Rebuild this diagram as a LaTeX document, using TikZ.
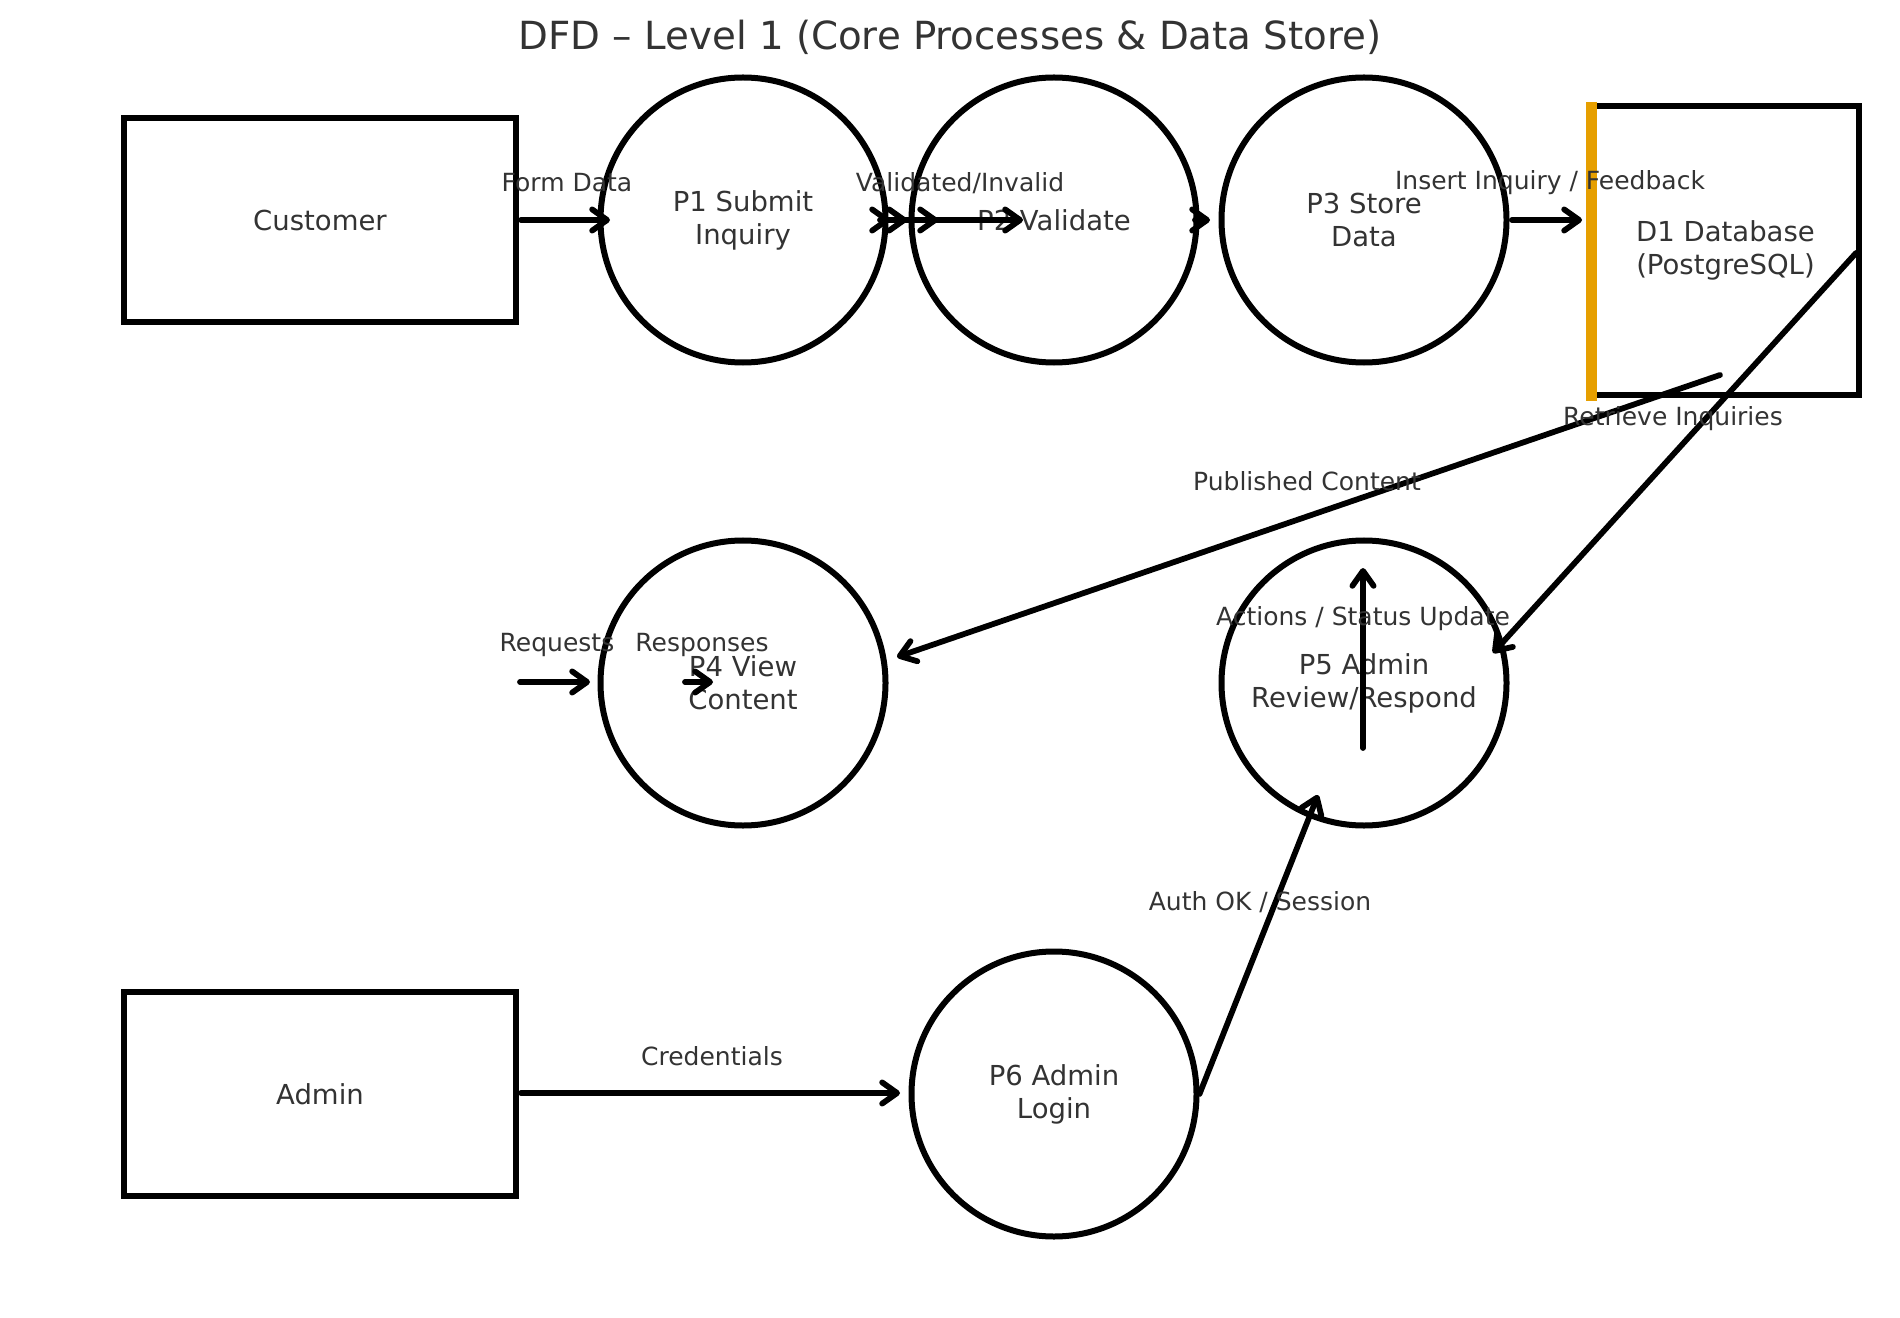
\documentclass[tikz,border=0pt]{standalone}
\usepackage{fontspec}
\setmainfont{DejaVu Sans}
\usetikzlibrary{arrows.meta}
\definecolor{txtgray}{HTML}{333333}
\definecolor{storebar}{HTML}{E69F00}

\begin{document}
\begin{tikzpicture}[
    x=0.4pt, y=-0.4pt,
    entity/.style={draw, line width=2.4pt, minimum width=156.4pt, minimum height=81.6pt, text=txtgray, font=\fontsize{11}{13.2}\selectfont, align=center},
    process/.style={draw, circle, line width=2.4pt, minimum size=114pt, inner sep=0pt, text=txtgray, font=\fontsize{11}{13.2}\selectfont, align=center},
    store/.style={draw, line width=2.4pt, minimum width=106.8pt, minimum height=115.2pt, text=txtgray, font=\fontsize{11}{13.2}\selectfont, align=center},
    lbl/.style={text=txtgray, font=\fontsize{10}{12}\selectfont, inner sep=0pt},
    flow/.style={line width=2.3pt, line cap=round, -{Straight Barb[length=6pt, width=8.5pt, round]}}
]
\useasboundingbox (0,0) rectangle (1900,1318);

% Rows of the diagram
\def\rowA{220}
\def\rowB{683}
\def\rowC{1094}

% Title
\node[text=txtgray, font=\fontsize{15.5}{18}\selectfont] (title) at (950,37) {DFD – Level 1 (Core Processes \& Data Store)};

% External entities
\node[entity] (cust) at (320,\rowA) {Customer};
\node[entity] (admin) at (320,\rowC) {Admin};

% Processes
\node[process] (p1) at (743,\rowA) {P1 Submit\\Inquiry};
\node[process] (p2) at (1054,\rowA) {P2 Validate};
\node[process] (p3) at (1364,\rowA) {P3 Store\\Data};
\node[process] (p4) at (743,\rowB) {P4 View\\Content};
\node[process] (p5) at (1364,\rowB) {P5 Admin\\Review/Respond};
\node[process] (p6) at (1054,\rowC) {P6 Admin\\Login};

% Data store with its open side
\node[store] (d1) at (1725.5,250.5) {D1 Database\\(PostgreSQL)};
\draw[storebar, line width=4.3pt] (1591.5,102) -- (1591.5,401);

% Arrow ends
\coordinate (formA) at (521,\rowA);
\coordinate (formB) at (610,\rowA);
\coordinate (valA) at (885,\rowA);
\coordinate (valB) at (1023,\rowA);
\coordinate (insA) at (1512,\rowA);
\coordinate (insB) at (1582,\rowA);
\coordinate (retA) at (1856,253);
\coordinate (retB) at (1493,653);
\coordinate (pubA) at (1720,375);
\coordinate (pubB) at (897,657);
\coordinate (reqA) at (520,682);
\coordinate (reqB) at (590,682);
\coordinate (resA) at (685,682);
\coordinate (resB) at (713,682);
\coordinate (actA) at (1363,748);
\coordinate (actB) at (1363,568);
\coordinate (authB) at (1318,795);
\coordinate (credA) at (521,1093);
\coordinate (credB) at (900,1093);

% Top row flows
\draw[flow] (formA) -- (formB);
\draw[flow] (valA) -- (valB);
\draw[flow] (880,\rowA) -- (890,\rowA);
\draw[flow] (897,\rowA) -- (907,\rowA);
\draw[flow] (928,\rowA) -- (938,\rowA);
\draw[flow] (1195,\rowA) -- (1210,\rowA);
\draw[flow] (insA) -- (insB);

% Store to processes
\draw[flow] (retA) -- (retB);
\draw[flow] (pubA) -- (pubB);

% Middle row flows
\draw[flow] (reqA) -- (reqB);
\draw[flow] (resA) -- (resB);
\draw[flow] (actA) -- (actB);

% Admin login
\draw[flow] (p6.east) -- (authB);
\draw[flow] (credA) -- (credB);

% Flow labels
\node[lbl] (lform) at (567,183) {Form Data};
\node[lbl] (lval) at (960,183) {Validated/Invalid};
\node[lbl] (lins) at (1550,183) {Insert Inquiry / Feedback};
\node[lbl] (lret) at (1673,419) {Retrieve Inquiries};
\node[lbl] (lpub) at (1307,481) {Published Content};
\node[lbl] (lreq) at (557,645) {Requests};
\node[lbl] (lres) at (702,645) {Responses};
\node[lbl] (lact) at (1363,619) {Actions / Status Update};
\node[lbl] (lauth) at (1260,902) {Auth OK / Session};
\node[lbl] (lcred) at (712,1056) {Credentials};

\end{tikzpicture}
\end{document}
